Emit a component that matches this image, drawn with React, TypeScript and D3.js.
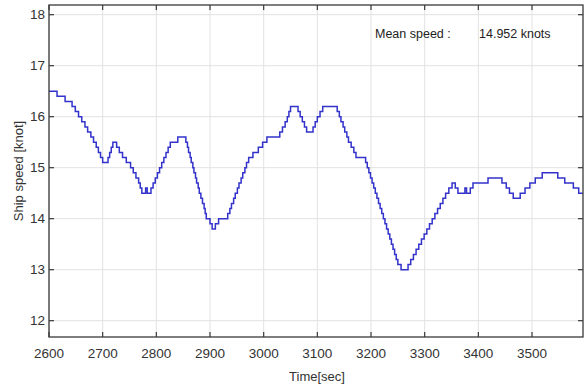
import * as d3 from "d3";

// step breakpoints: time [sec] where speed changes, and new speed [knot]
const times = [
  2600, 2615, 2630, 2643, 2649, 2655, 2661, 2667, 2672, 2678, 2683, 2688, 2692, 2696, 2700,
  2710, 2713, 2716, 2719,
  2726, 2731, 2737, 2744, 2752, 2757, 2762, 2767, 2770, 2773, 2780, 2783,
  2790, 2794, 2798, 2802, 2806, 2810, 2814, 2818, 2822, 2826, 2840,
  2855, 2858, 2860, 2863, 2865, 2868, 2870, 2873, 2875, 2878, 2880, 2883, 2886, 2889, 2891, 2893,
  2900, 2904, 2910, 2916,
  2933, 2937, 2940, 2944, 2947, 2951, 2954, 2958, 2961, 2965, 2968, 2972, 2980, 2990, 2998, 3006,
  3030, 3035, 3040, 3044, 3047, 3050,
  3064, 3068, 3072, 3076, 3080,
  3092, 3096, 3100, 3105, 3110,
  3137, 3141, 3144, 3148, 3151, 3155, 3158, 3163, 3168, 3172,
  3190, 3193, 3196, 3199, 3202, 3205, 3208, 3211, 3214, 3217, 3220, 3223, 3226, 3229, 3232, 3235, 3238, 3241, 3244, 3247, 3250, 3256,
  3269, 3274, 3279, 3284, 3289, 3294, 3299, 3304, 3309, 3314, 3319, 3324, 3329, 3334, 3339, 3345, 3351,
  3357, 3362, 3375, 3378, 3385, 3390, 3418, 3444, 3452, 3458, 3465,
  3478, 3487, 3496, 3506, 3519, 3548, 3561, 3577, 3587, 3595,
];

const speeds = [
  16.5, 16.4, 16.3, 16.2, 16.1, 16.0, 15.9, 15.8, 15.7, 15.6, 15.5, 15.4, 15.3, 15.2, 15.1,
  15.2, 15.3, 15.4, 15.5,
  15.4, 15.3, 15.2, 15.1, 15.0, 14.9, 14.8, 14.7, 14.6, 14.5, 14.6, 14.5,
  14.6, 14.7, 14.8, 14.9, 15.0, 15.1, 15.2, 15.3, 15.4, 15.5, 15.6,
  15.5, 15.4, 15.3, 15.2, 15.1, 15.0, 14.9, 14.8, 14.7, 14.6, 14.5, 14.4, 14.3, 14.2, 14.1, 14.0,
  13.9, 13.8, 13.9, 14.0,
  14.1, 14.2, 14.3, 14.4, 14.5, 14.6, 14.7, 14.8, 14.9, 15.0, 15.1, 15.2, 15.3, 15.4, 15.5, 15.6,
  15.7, 15.8, 15.9, 16.0, 16.1, 16.2,
  16.1, 16.0, 15.9, 15.8, 15.7,
  15.8, 15.9, 16.0, 16.1, 16.2,
  16.1, 16.0, 15.9, 15.8, 15.7, 15.6, 15.5, 15.4, 15.3, 15.2,
  15.1, 15.0, 14.9, 14.8, 14.7, 14.6, 14.5, 14.4, 14.3, 14.2, 14.1, 14.0, 13.9, 13.8, 13.7, 13.6, 13.5, 13.4, 13.3, 13.2, 13.1, 13.0,
  13.1, 13.2, 13.3, 13.4, 13.5, 13.6, 13.7, 13.8, 13.9, 14.0, 14.1, 14.2, 14.3, 14.4, 14.5, 14.6, 14.7,
  14.6, 14.5, 14.6, 14.5, 14.6, 14.7, 14.8, 14.7, 14.6, 14.5, 14.4,
  14.5, 14.6, 14.7, 14.8, 14.9, 14.8, 14.7, 14.6, 14.5, 14.5,
];

const xTicks = [2600, 2700, 2800, 2900, 3000, 3100, 3200, 3300, 3400, 3500];
const yTicks = [12, 13, 14, 15, 16, 17, 18];

export default function App() {
  const width = 584;
  const height = 385;
  const left = 49;
  const right = 583;
  const top = 5;
  const bottom = 337;

  const x = d3.scaleLinear().domain([2600, 3595]).range([left, right]);
  const y = d3.scaleLinear().domain([11.68, 18.19]).range([bottom, top]);

  const data = times.map((t, i) => ({ t, v: speeds[i] }));
  const line = d3
    .line<{ t: number; v: number }>()
    .x((d) => x(d.t))
    .y((d) => y(d.v))
    .curve(d3.curveStepAfter);

  const font = "'Liberation Sans', Arial, sans-serif";
  const axisColor = "#3a3a3a";
  const gridColor = "#e2e2e2";
  const tickLen = 5;

  return (
    <svg
      width={width}
      height={height}
      style={{ position: "absolute", left: 0, top: 0, background: "#fff" }}
      fontFamily={font}
    >
      <rect x={0} y={0} width={width} height={height} fill="#fff" />

      {xTicks.map((t) => (
        <line key={`gx${t}`} x1={x(t)} x2={x(t)} y1={top} y2={bottom} stroke={gridColor} strokeWidth={1} />
      ))}
      {yTicks.map((v) => (
        <line key={`gy${v}`} x1={left} x2={right} y1={y(v)} y2={y(v)} stroke={gridColor} strokeWidth={1} />
      ))}

      <path d={line(data) ?? ""} fill="none" stroke="#3333cc" strokeWidth={1.5} />

      {/* axis box */}
      <rect x={left} y={top} width={right - left} height={bottom - top} fill="none" stroke={axisColor} strokeWidth={1.3} />

      {xTicks.map((t) => (
        <g key={`tx${t}`}>
          <line x1={x(t)} x2={x(t)} y1={bottom} y2={bottom - tickLen} stroke={axisColor} strokeWidth={1.2} />
          <line x1={x(t)} x2={x(t)} y1={top} y2={top + tickLen} stroke={axisColor} strokeWidth={1.2} />
          <text x={x(t)} y={358} textAnchor="middle" fontSize={13.5} fill="#333">
            {t}
          </text>
        </g>
      ))}
      {yTicks.map((v) => (
        <g key={`ty${v}`}>
          <line x1={left} x2={left + tickLen} y1={y(v)} y2={y(v)} stroke={axisColor} strokeWidth={1.2} />
          <line x1={right} x2={right - tickLen} y1={y(v)} y2={y(v)} stroke={axisColor} strokeWidth={1.2} />
          <text x={45} y={y(v)} dy="0.35em" textAnchor="end" fontSize={13.5} fill="#333">
            {v}
          </text>
        </g>
      ))}

      <text x={317} y={381} textAnchor="middle" fontSize={13} fill="#333">
        Time[sec]
      </text>
      <text
        transform={`translate(23, ${(top + bottom) / 2}) rotate(-90)`}
        textAnchor="middle"
        fontSize={13}
        fill="#333"
      >
        Ship speed [knot]
      </text>

      <text x={375} y={38} fontSize={12.5} fill="#222">
        Mean speed :
      </text>
      <text x={479} y={38} fontSize={12.5} fill="#222">
        14.952 knots
      </text>
    </svg>
  );
}
